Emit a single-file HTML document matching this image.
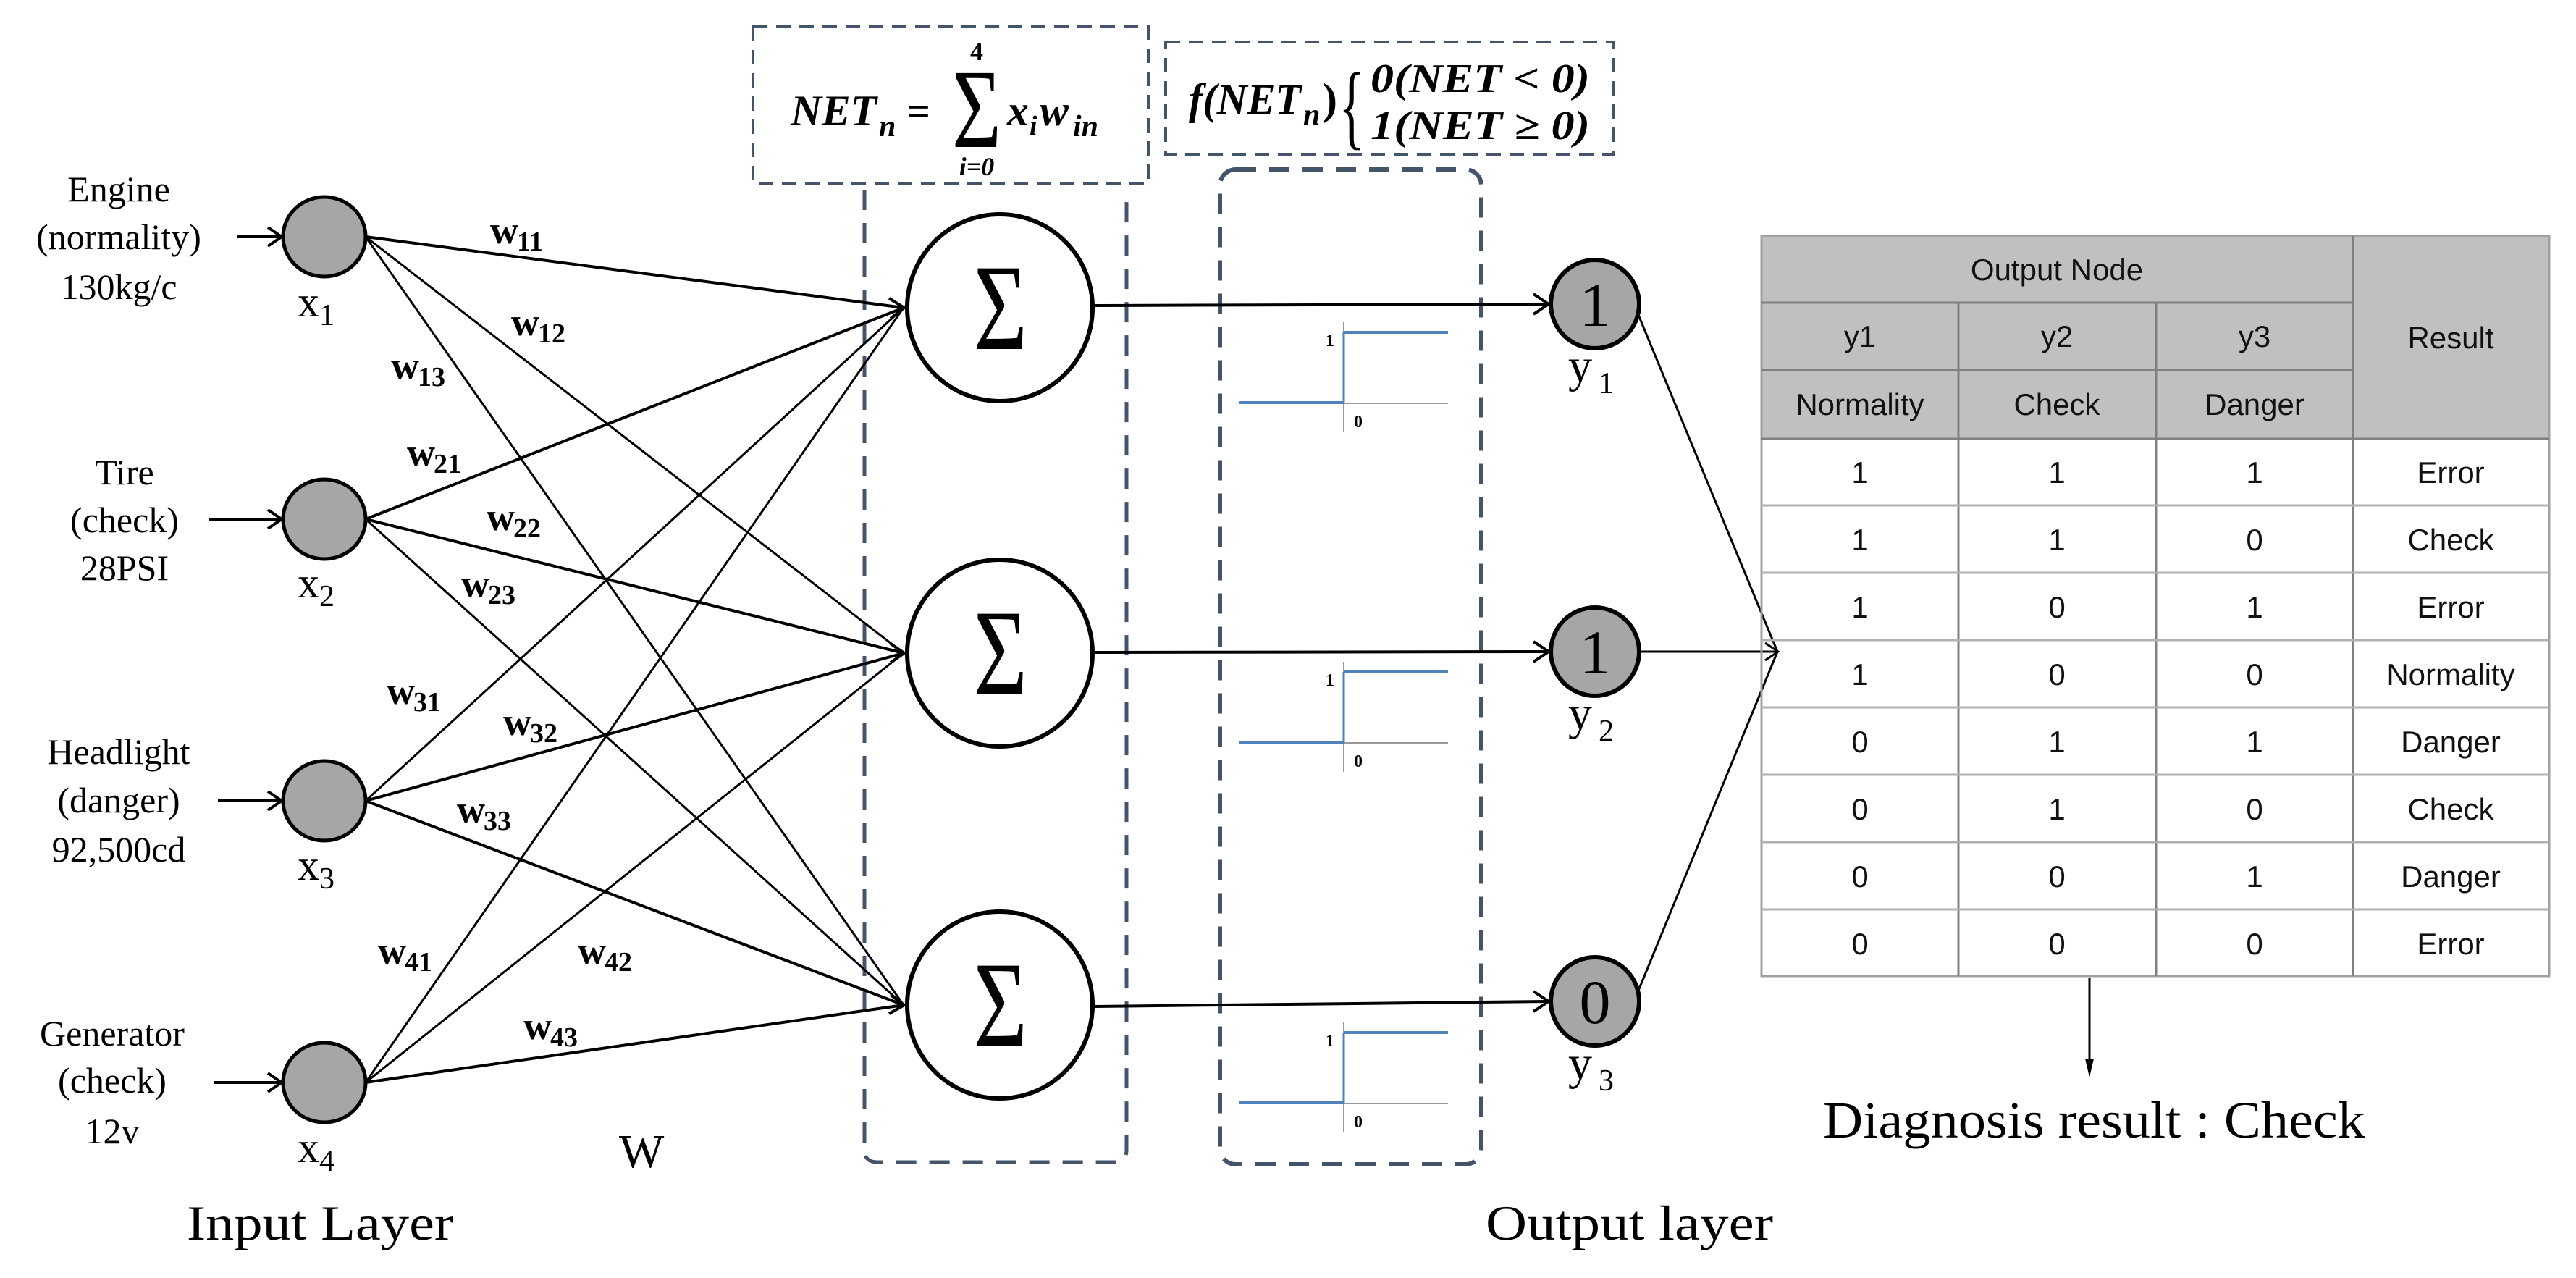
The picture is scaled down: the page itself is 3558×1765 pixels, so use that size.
<!DOCTYPE html>
<html><head><meta charset="utf-8"><style>
html,body{margin:0;padding:0;background:#fff;}
svg{display:block;}
.s{font-family:"Liberation Serif",serif;}
.a{font-family:"Liberation Sans",sans-serif;}
</style></head><body>
<svg width="3558" height="1765" viewBox="0 0 3558 1765" xmlns="http://www.w3.org/2000/svg">
<rect width="3558" height="1765" fill="#fff"/>

<!-- dashed boxes -->
<g fill="none" stroke="#44546a">
<rect x="1040" y="37" width="546" height="216" stroke-width="4" stroke-dasharray="20 12"/>
<rect x="1610" y="58" width="618" height="155" stroke-width="4" stroke-dasharray="20 12"/>
<path d="M1194 262 V1588 Q1194 1605 1212 1605 H1540 Q1556 1605 1556 1588 V262" stroke-width="5" stroke-dasharray="28 18"/>
<rect x="1685" y="234" width="361" height="1374" rx="22" stroke-width="6" stroke-dasharray="28 18"/>
</g>

<!-- formula 1 -->
<g class="s" font-weight="bold" font-style="italic" fill="#000">
<text x="1092" y="173" font-size="60" textLength="119" lengthAdjust="spacingAndGlyphs">NET</text>
<text x="1214" y="188" font-size="42">n</text>
<text x="1253" y="172" font-size="56" font-style="normal">=</text>
<text x="1349" y="83" font-size="36" font-style="normal" text-anchor="middle">4</text>
<text x="1315" y="203" font-size="156" font-style="normal" font-weight="normal" textLength="68" lengthAdjust="spacingAndGlyphs">Σ</text>
<text x="1349" y="242" font-size="36" text-anchor="middle">i=0</text>
<text x="1391" y="173" font-size="60">x</text>
<text x="1422" y="186" font-size="38">i</text>
<text x="1436" y="173" font-size="60">w</text>
<text x="1482" y="188" font-size="42">in</text>
</g>
<!-- formula 2 -->
<g class="s" font-weight="bold" font-style="italic" fill="#000">
<text x="1642" y="157" font-size="60" textLength="155" lengthAdjust="spacingAndGlyphs">f(NET</text>
<text x="1800" y="172" font-size="42">n</text>
<text x="1827" y="157" font-size="60" font-style="normal">)</text>
<text x="1849" y="190" font-size="130" font-style="normal" font-weight="normal" textLength="36" lengthAdjust="spacingAndGlyphs">{</text>
<text x="1893" y="127" font-size="56" textLength="303" lengthAdjust="spacingAndGlyphs">0(NET &lt; 0)</text>
<text x="1893" y="192" font-size="56" textLength="303" lengthAdjust="spacingAndGlyphs">1(NET ≥ 0)</text>
</g>

<!-- input labels -->
<g class="s" font-size="50" text-anchor="middle" fill="#000">
<text x="164" y="278">Engine</text>
<text x="164" y="344">(normality)</text>
<text x="164" y="413">130kg/c</text>
<text x="172" y="669">Tire</text>
<text x="172" y="735">(check)</text>
<text x="172" y="801">28PSI</text>
<text x="164" y="1055">Headlight</text>
<text x="164" y="1122">(danger)</text>
<text x="164" y="1190">92,500cd</text>
<text x="155" y="1444">Generator</text>
<text x="155" y="1509">(check)</text>
<text x="155" y="1579">12v</text>
</g>

<!-- input arrows -->
<g stroke="#000" stroke-width="4" fill="none">
<line x1="327" y1="327" x2="388" y2="327"/><polyline points="370,314 389,327 370,340"/>
<line x1="289" y1="717" x2="388" y2="717"/><polyline points="370,704 389,717 370,730"/>
<line x1="301" y1="1106" x2="388" y2="1106"/><polyline points="370,1093 389,1106 370,1119"/>
<line x1="296" y1="1495" x2="388" y2="1495"/><polyline points="370,1482 389,1495 370,1508"/>
</g>

<!-- connections -->
<g stroke="#000" fill="none">
<line x1="505" y1="327" x2="1248" y2="425" stroke-width="4"/>
<line x1="505" y1="327" x2="1248" y2="902" stroke-width="3"/>
<line x1="505" y1="327" x2="1248" y2="1388" stroke-width="3"/>
<line x1="505" y1="717" x2="1248" y2="425" stroke-width="4"/>
<line x1="505" y1="717" x2="1248" y2="902" stroke-width="4"/>
<line x1="505" y1="717" x2="1248" y2="1388" stroke-width="3"/>
<line x1="505" y1="1106" x2="1248" y2="425" stroke-width="3"/>
<line x1="505" y1="1106" x2="1248" y2="902" stroke-width="4"/>
<line x1="505" y1="1106" x2="1248" y2="1388" stroke-width="4"/>
<line x1="505" y1="1495" x2="1248" y2="425" stroke-width="3"/>
<line x1="505" y1="1495" x2="1248" y2="902" stroke-width="3"/>
<line x1="505" y1="1495" x2="1248" y2="1388" stroke-width="4"/>
</g>
<g stroke="#000" stroke-width="4" fill="none">
<polyline points="1228,412 1249,425 1230,440"/>
<polyline points="1230,889 1249,902 1230,915"/>
<polyline points="1230,1374 1249,1388 1228,1400"/>
</g>

<!-- input nodes -->
<g fill="#a6a6a6" stroke="#000" stroke-width="5">
<ellipse cx="448" cy="327" rx="57" ry="55"/>
<ellipse cx="448" cy="717" rx="57" ry="55"/>
<ellipse cx="448" cy="1106" rx="57" ry="55"/>
<ellipse cx="448" cy="1495" rx="57" ry="55"/>
</g>
<g class="s" fill="#000">
<text x="411" y="437" font-size="60">x</text><text x="441" y="449" font-size="42">1</text>
<text x="411" y="825" font-size="60">x</text><text x="441" y="837" font-size="42">2</text>
<text x="411" y="1215" font-size="60">x</text><text x="441" y="1227" font-size="42">3</text>
<text x="411" y="1605" font-size="60">x</text><text x="441" y="1617" font-size="42">4</text>
</g>

<!-- weight labels -->
<g class="s" font-weight="bold" fill="#000">
<text x="677" y="336" font-size="54">w</text><text x="714" y="346" font-size="38">11</text>
<text x="706" y="463" font-size="54">w</text><text x="743" y="473" font-size="38">12</text>
<text x="540" y="523" font-size="54">w</text><text x="577" y="533" font-size="38">13</text>
<text x="562" y="643" font-size="54">w</text><text x="599" y="653" font-size="38">21</text>
<text x="672" y="732" font-size="54">w</text><text x="709" y="742" font-size="38">22</text>
<text x="637" y="824" font-size="54">w</text><text x="674" y="834" font-size="38">23</text>
<text x="534" y="972" font-size="54">w</text><text x="571" y="982" font-size="38">31</text>
<text x="695" y="1015" font-size="54">w</text><text x="732" y="1025" font-size="38">32</text>
<text x="631" y="1136" font-size="54">w</text><text x="668" y="1146" font-size="38">33</text>
<text x="522" y="1331" font-size="54">w</text><text x="559" y="1341" font-size="38">41</text>
<text x="798" y="1331" font-size="54">w</text><text x="835" y="1341" font-size="38">42</text>
<text x="723" y="1435" font-size="54">w</text><text x="760" y="1445" font-size="38">43</text>
</g>
<text class="s" x="855" y="1612" font-size="66">W</text>

<!-- sum nodes -->
<g fill="#fff" stroke="#000" stroke-width="6">
<ellipse cx="1381" cy="425" rx="128" ry="129"/>
<ellipse cx="1381" cy="902" rx="128" ry="129"/>
<ellipse cx="1381" cy="1388" rx="128" ry="129"/>
</g>
<g class="s" fill="#000" font-size="170">
<text x="1345" y="482" textLength="74" lengthAdjust="spacingAndGlyphs">Σ</text>
<text x="1345" y="959" textLength="74" lengthAdjust="spacingAndGlyphs">Σ</text>
<text x="1345" y="1445" textLength="74" lengthAdjust="spacingAndGlyphs">Σ</text>
</g>

<!-- sum -> output lines -->
<g stroke="#000" stroke-width="4" fill="none">
<line x1="1509" y1="422" x2="2138" y2="420"/><polyline points="2118,406 2139,420 2118,434"/>
<line x1="1509" y1="901" x2="2138" y2="900"/><polyline points="2118,886 2139,900 2118,914"/>
<line x1="1509" y1="1390" x2="2138" y2="1383"/><polyline points="2118,1369 2139,1383 2118,1397"/>
</g>

<!-- step graphs -->
<g id="g1">
<line x1="1856" y1="445" x2="1856" y2="597" stroke="#999" stroke-width="2"/>
<line x1="1856" y1="557" x2="2000" y2="557" stroke="#999" stroke-width="2"/>
<line x1="1712" y1="556" x2="1856" y2="556" stroke="#4f81bd" stroke-width="4"/>
<line x1="1856" y1="459" x2="2000" y2="459" stroke="#4f81bd" stroke-width="4"/>
<line x1="1856" y1="459" x2="1856" y2="556" stroke="#4f81bd" stroke-width="3"/>
<text class="s" x="1831" y="478" font-size="24" font-weight="bold">1</text>
<text class="s" x="1870" y="590" font-size="24" font-weight="bold">0</text>
</g>
<use href="#g1" y="469"/>
<use href="#g1" y="967"/>

<!-- output nodes -->
<g fill="#a6a6a6" stroke="#000" stroke-width="6">
<circle cx="2203" cy="420" r="61"/>
<circle cx="2203" cy="900" r="61"/>
<circle cx="2203" cy="1383" r="61"/>
</g>
<g class="s" fill="#000" font-size="86" text-anchor="middle">
<text x="2203" y="450">1</text><text x="2203" y="930">1</text><text x="2203" y="1413">0</text>
</g>
<g class="s" fill="#000">
<text x="2166" y="527" font-size="66">y</text><text x="2208" y="543" font-size="42">1</text>
<text x="2166" y="1007" font-size="66">y</text><text x="2208" y="1023" font-size="42">2</text>
<text x="2166" y="1490" font-size="66">y</text><text x="2208" y="1506" font-size="42">3</text>
</g>

<!-- output -> table -->
<g stroke="#000" stroke-width="3" fill="none">
<line x1="2263" y1="435" x2="2455" y2="900"/>
<line x1="2265" y1="900" x2="2455" y2="900"/>
<line x1="2263" y1="1368" x2="2455" y2="900"/>
<polyline points="2438,888 2456,900 2438,912"/>
</g>

<!-- table -->
<rect x="2433" y="326" width="1088" height="280" fill="#c0c0c0"/>
<g stroke="#808080" stroke-width="3" fill="none">
<rect x="2433" y="326" width="1088" height="1022" stroke="#a0a0a0"/>
<line x1="2433" y1="418" x2="3250" y2="418"/>
<line x1="2433" y1="511" x2="3250" y2="511"/>
<line x1="2705" y1="418" x2="2705" y2="1348"/>
<line x1="2978" y1="418" x2="2978" y2="1348"/>
<line x1="3250" y1="326" x2="3250" y2="1348"/>
<line x1="2433" y1="606" x2="3521" y2="606"/>
</g>
<g stroke="#b0b0b0" stroke-width="3">
<line x1="2433" y1="698" x2="3521" y2="698"/>
<line x1="2433" y1="791" x2="3521" y2="791"/>
<line x1="2433" y1="884" x2="3521" y2="884"/>
<line x1="2433" y1="977" x2="3521" y2="977"/>
<line x1="2433" y1="1070" x2="3521" y2="1070"/>
<line x1="2433" y1="1163" x2="3521" y2="1163"/>
<line x1="2433" y1="1256" x2="3521" y2="1256"/>
</g>
<g class="a" font-size="42" fill="#111" text-anchor="middle">
<text x="2841" y="387">Output Node</text>
<text x="2569" y="479">y1</text><text x="2841" y="479">y2</text><text x="3114" y="479">y3</text>
<text x="2569" y="573">Normality</text><text x="2841" y="573">Check</text><text x="3114" y="573">Danger</text>
<text x="3385" y="481">Result</text>
<text x="2569" y="667">1</text><text x="2841" y="667">1</text><text x="3114" y="667">1</text><text x="3385" y="667">Error</text>
<text x="2569" y="760">1</text><text x="2841" y="760">1</text><text x="3114" y="760">0</text><text x="3385" y="760">Check</text>
<text x="2569" y="853">1</text><text x="2841" y="853">0</text><text x="3114" y="853">1</text><text x="3385" y="853">Error</text>
<text x="2569" y="946">1</text><text x="2841" y="946">0</text><text x="3114" y="946">0</text><text x="3385" y="946">Normality</text>
<text x="2569" y="1039">0</text><text x="2841" y="1039">1</text><text x="3114" y="1039">1</text><text x="3385" y="1039">Danger</text>
<text x="2569" y="1132">0</text><text x="2841" y="1132">1</text><text x="3114" y="1132">0</text><text x="3385" y="1132">Check</text>
<text x="2569" y="1225">0</text><text x="2841" y="1225">0</text><text x="3114" y="1225">1</text><text x="3385" y="1225">Danger</text>
<text x="2569" y="1318">0</text><text x="2841" y="1318">0</text><text x="3114" y="1318">0</text><text x="3385" y="1318">Error</text>
</g>

<!-- down arrow -->
<line x1="2886" y1="1351" x2="2886" y2="1480" stroke="#000" stroke-width="3"/>
<polygon points="2880,1462 2892,1462 2886,1488" fill="#000"/>

<g class="s" fill="#000">
<text x="2518" y="1571" font-size="72" textLength="749" lengthAdjust="spacingAndGlyphs">Diagnosis result : Check</text>
<text x="258" y="1712" font-size="68" textLength="368" lengthAdjust="spacingAndGlyphs">Input Layer</text>
<text x="2052" y="1712" font-size="68" textLength="397" lengthAdjust="spacingAndGlyphs">Output layer</text>
</g>
</svg>
</body></html>
